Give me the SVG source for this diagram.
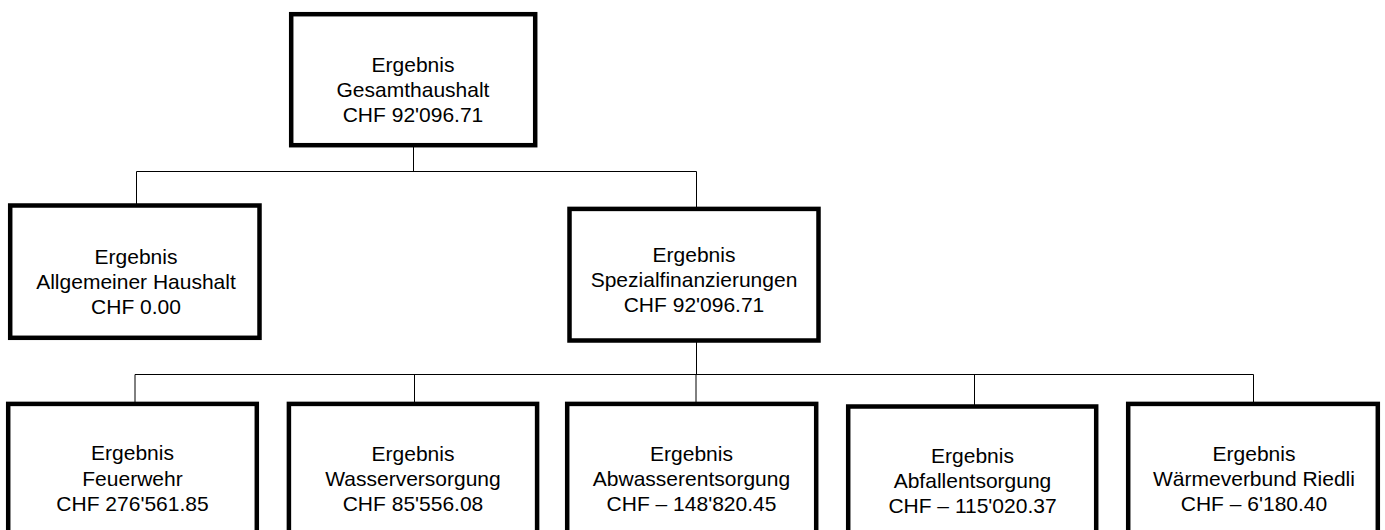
<svg xmlns="http://www.w3.org/2000/svg" width="1385" height="530" viewBox="0 0 1385 530">
<style>
.box{fill:#fff;stroke:#000;stroke-width:4.5}
.t{font-family:"Liberation Sans",Arial,sans-serif;font-size:21px;fill:#000;text-anchor:middle}
.c{fill:none;stroke:#000;stroke-width:1}
</style>
<rect width="1385" height="530" fill="#fff"/>
<g id="connectors">
<path class="c" d="M413.5 147V171.5M136.5 171.5H696.5M136.5 171.5V205M696.5 171.5V208"/>
<path class="c" d="M696.5 342V374.5M135 374.5H1253.5M135 374.5V403M414.5 374.5V403M696 374.5V403M974.5 374.5V406M1253.5 374.5V403"/>
</g>
<g id="gesamt">
<rect class="box" x="291.2" y="14.2" width="244" height="131"/>
<text class="t" x="413" y="71.5">Ergebnis</text>
<text class="t" x="413" y="96.7">Gesamthaushalt</text>
<text class="t" x="413" y="121.9">CHF 92'096.71</text>
</g>
<g id="allgemein">
<rect class="box" x="10.2" y="205.5" width="249.3" height="132.3"/>
<text class="t" x="136" y="264">Ergebnis</text>
<text class="t" x="136" y="288.5">Allgemeiner Haushalt</text>
<text class="t" x="136" y="313.5">CHF 0.00</text>
</g>
<g id="spezial">
<rect class="box" x="569.5" y="208.9" width="249" height="131.6"/>
<text class="t" x="694" y="262.3">Ergebnis</text>
<text class="t" x="694" y="286.7">Spezialfinanzierungen</text>
<text class="t" x="694" y="311.7">CHF 92'096.71</text>
</g>
<g id="feuerwehr">
<rect class="box" x="8.2" y="403.9" width="248.6" height="140"/>
<text class="t" x="132.5" y="460">Ergebnis</text>
<text class="t" x="132.5" y="485.5">Feuerwehr</text>
<text class="t" x="132.5" y="510.7">CHF 276'561.85</text>
</g>
<g id="wasser">
<rect class="box" x="288.9" y="403.9" width="248.2" height="140"/>
<text class="t" x="413" y="460.5">Ergebnis</text>
<text class="t" x="413" y="485.5">Wasserversorgung</text>
<text class="t" x="413" y="510.7">CHF 85'556.08</text>
</g>
<g id="abwasser">
<rect class="box" x="567.2" y="403.9" width="249" height="140"/>
<text class="t" x="691.5" y="460.5">Ergebnis</text>
<text class="t" x="691.5" y="485.5">Abwasserentsorgung</text>
<text class="t" x="691.5" y="510.7">CHF – 148'820.45</text>
</g>
<g id="abfall">
<rect class="box" x="848.2" y="406.5" width="248" height="140"/>
<text class="t" x="972.5" y="463.3">Ergebnis</text>
<text class="t" x="972.5" y="488.3">Abfallentsorgung</text>
<text class="t" x="972.5" y="513.3">CHF – 115'020.37</text>
</g>
<g id="waerme">
<rect class="box" x="1128.2" y="403.9" width="249.6" height="140"/>
<text class="t" x="1254" y="461">Ergebnis</text>
<text class="t" x="1254" y="486">Wärmeverbund Riedli</text>
<text class="t" x="1254" y="511">CHF – 6'180.40</text>
</g>
</svg>
